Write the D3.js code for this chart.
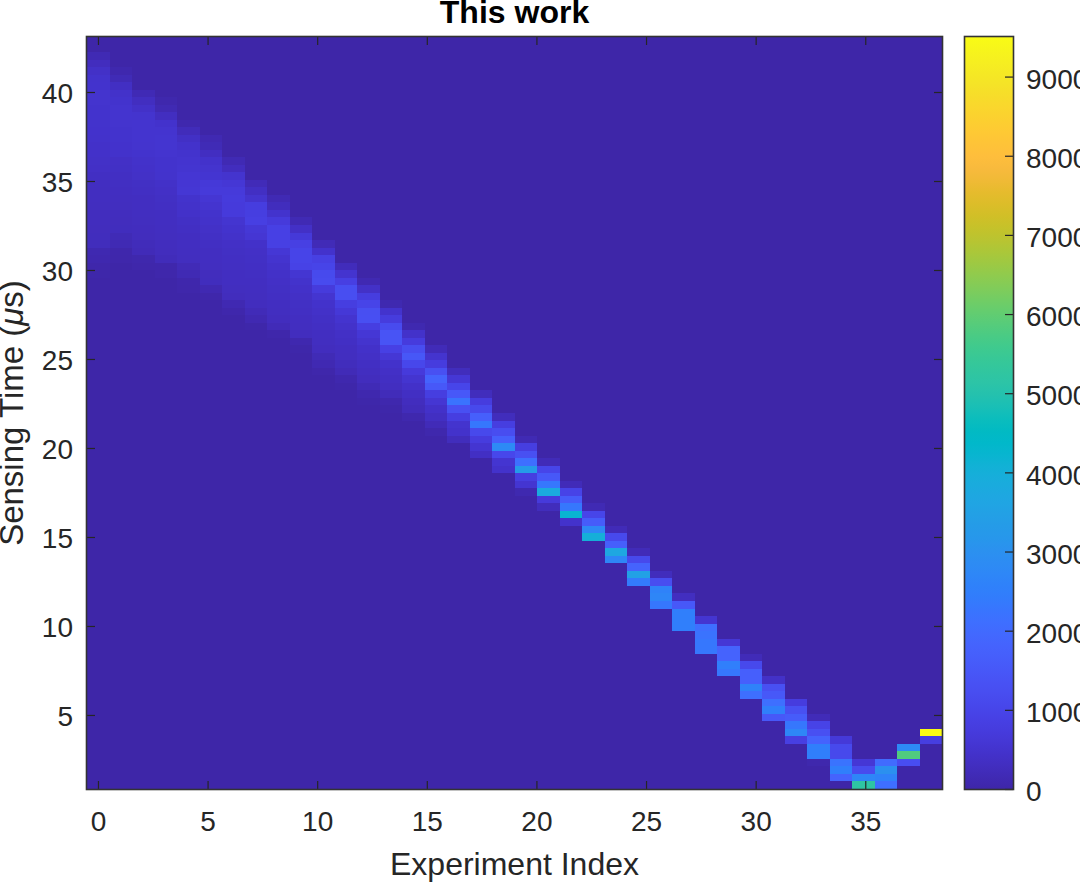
<!DOCTYPE html>
<html>
<head>
<meta charset="utf-8">
<script src="https://cdnjs.cloudflare.com/ajax/libs/d3/7.8.5/d3.min.js"></script>
<style>
html,body{margin:0;padding:0;background:#fff;overflow:hidden}
svg{display:block}
text{font-family:"Liberation Sans",Arial,sans-serif;fill:#262626}
</style>
</head>
<body>
<svg id="chart" width="1080" height="883"></svg>
<script>
const titleText = "This work";
const xLabel = "Experiment Index";
const xTicks = [0,5,10,15,20,25,30,35];
const yTicks = [5,10,15,20,25,30,35,40];
const cTicks = [0,1000,2000,3000,4000,5000,6000,7000,8000,9000];
const rowCount = 100;
const colorMax = 9500;

// Parula colormap
const parula = [[0.2422,0.1504,0.6603],[0.2504,0.1650,0.7076],[0.2578,0.1818,0.7511],[0.2647,0.1978,0.7952],[0.2706,0.2147,0.8364],[0.2751,0.2342,0.8710],[0.2783,0.2559,0.8991],[0.2803,0.2782,0.9221],[0.2813,0.3006,0.9414],[0.2810,0.3228,0.9579],[0.2795,0.3447,0.9717],[0.2760,0.3667,0.9829],[0.2699,0.3892,0.9906],[0.2602,0.4123,0.9952],[0.2440,0.4358,0.9988],[0.2206,0.4603,0.9973],[0.1963,0.4847,0.9892],[0.1834,0.5074,0.9798],[0.1786,0.5289,0.9682],[0.1764,0.5499,0.9520],[0.1687,0.5703,0.9359],[0.1540,0.5902,0.9218],[0.1460,0.6091,0.9079],[0.1380,0.6276,0.8973],[0.1248,0.6459,0.8883],[0.1113,0.6635,0.8763],[0.0952,0.6798,0.8598],[0.0689,0.6948,0.8394],[0.0297,0.7082,0.8163],[0.0036,0.7203,0.7917],[0.0067,0.7312,0.7660],[0.0433,0.7411,0.7394],[0.0964,0.7500,0.7120],[0.1408,0.7584,0.6842],[0.1717,0.7670,0.6554],[0.1938,0.7758,0.6251],[0.2161,0.7843,0.5923],[0.2470,0.7918,0.5567],[0.2906,0.7973,0.5188],[0.3406,0.8008,0.4789],[0.3909,0.8029,0.4354],[0.4456,0.8024,0.3909],[0.5044,0.7993,0.3480],[0.5616,0.7942,0.3045],[0.6174,0.7876,0.2612],[0.6720,0.7793,0.2227],[0.7242,0.7698,0.1910],[0.7738,0.7598,0.1646],[0.8203,0.7498,0.1535],[0.8634,0.7406,0.1596],[0.9035,0.7330,0.1774],[0.9393,0.7288,0.2100],[0.9728,0.7298,0.2394],[0.9956,0.7434,0.2371],[0.9970,0.7659,0.2199],[0.9952,0.7893,0.2028],[0.9892,0.8136,0.1885],[0.9786,0.8386,0.1766],[0.9676,0.8639,0.1643],[0.9610,0.8890,0.1537],[0.9597,0.9135,0.1423],[0.9628,0.9373,0.1265],[0.9691,0.9606,0.1064],[0.9769,0.9839,0.0805]];

// First filled row (counted from the top) of each of the 38 columns
const columnStart = [2,4,7,8,11,13,16,19,21,24,27,30,32,35,38,41,44,47,50,53,56,59,62,65,68,71,74,77,80,82,85,88,90,93,96,96,94,92];

// Counts per column, top to bottom, starting at columnStart
const columnValues = [
 [150,280,400,470,490,500,500,490,480,470,460,450,430,420,400,380,340,320,300,300,290,280,280,270,260,250,110,90,40,30],
 [80,180,340,440,490,510,510,500,490,480,460,450,390,370,340,330,310,300,290,280,270,260,170,150,50,40],
 [160,300,410,500,520,520,510,500,480,440,420,400,360,340,320,310,300,290,280,270,230,200,60,40],
 [60,140,300,460,510,530,530,520,490,480,470,410,390,360,340,320,310,300,290,280,270,220,50,40],
 [80,220,370,450,480,520,530,570,570,590,470,440,420,370,340,320,310,300,290,190,150,50,40],
 [120,170,320,450,500,540,650,680,570,520,470,440,400,370,340,320,310,300,270,260,130,40],
 [150,280,500,600,680,720,700,700,530,480,440,390,360,340,330,320,310,290,270,130,50],
 [200,340,500,780,800,830,620,580,420,390,370,350,330,320,300,290,280,200,120,30],
 [150,260,480,700,880,880,860,600,520,450,410,380,360,340,320,300,280,200,40],
 [150,380,650,860,980,980,930,560,470,420,390,360,340,320,300,280,90,30],
 [190,460,860,980,1130,1160,720,530,450,410,370,340,320,300,280,170,120,40],
 [240,520,830,1230,1230,800,640,510,440,390,350,320,300,250,190,70,30],
 [120,400,780,980,1260,1280,820,600,500,430,380,340,300,270,170,80,30],
 [100,480,740,1160,1410,1400,880,600,450,390,340,300,210,80,30],
 [100,440,730,1200,1480,1060,700,530,420,340,280,230,80],
 [200,500,750,1300,1800,1500,800,580,430,330,200,60],
 [250,600,1000,1500,2200,1300,800,500,450,250],
 [250,750,1100,1700,2300,1100,750,550,350],
 [250,800,1200,1700,2800,1050,550,450],
 [150,800,1300,2100,3300,800,550,100],
 [200,1000,1500,2300,3800,700,250],
 [200,950,1600,2300,4200,450],
 [150,1000,1600,2750,4000],
 [200,1100,1700,3700,2700],
 [200,1100,1800,3500,2400],
 [250,1200,2600,2700,2300],
 [300,1500,2500,2500,2500],
 [550,2100,2200,2300,2300],
 [600,1800,1800,2500,2300],
 [200,1100,1700,1700,2600,2100],
 [400,1300,1500,2100,2500,1500],
 [750,1300,1600,2300,2700,850],
 [200,950,1300,1800,2500,2500,60],
 [650,1100,1100,2200,2500,1800],
 [600,1150,2700,5200],
 [2000,3000,2600,2100],
 [2800,5800,1200],
 [9500,800]
];

const W = 1080, H = 883;
const plot = {left:87, right:942, top:37, bottom:789};
const bar = {left:965, right:1013};
const tickLen = 8;

const svg = d3.select("#chart");

const x = d3.scaleLinear().domain([-0.5,38.5]).range([plot.left,plot.right]);
const y = d3.scaleLinear().domain([0.84,43.09]).range([plot.bottom,plot.top]);
const colBand = d3.scaleBand().domain(d3.range(columnValues.length)).range([plot.left,plot.right]);
const rowBand = d3.scaleBand().domain(d3.range(rowCount)).range([plot.top,plot.bottom]);
const c = d3.scaleLinear().domain([0,colorMax]).range([plot.bottom,plot.top]);

const toRgb = p => d3.rgb(p[0]*255,p[1]*255,p[2]*255).formatHex();
const paletteHex = parula.map(toRgb);
const color = d3.scaleLinear()
  .domain(paletteHex.map((_,i)=>i/(paletteHex.length-1)*colorMax))
  .range(paletteHex).interpolate(d3.interpolateRgb).clamp(true);

const cells = columnValues.flatMap((vals,ci)=>vals.map((v,i)=>({col:ci,row:columnStart[ci]+i,v})));

// background (zero counts)
svg.append("rect").attr("x",plot.left).attr("y",plot.top)
  .attr("width",plot.right-plot.left).attr("height",plot.bottom-plot.top)
  .attr("fill",color(0));

svg.append("g").attr("shape-rendering","crispEdges").selectAll("rect").data(cells).join("rect")
  .attr("x",d=>colBand(d.col)).attr("y",d=>rowBand(d.row))
  .attr("width",colBand.bandwidth()).attr("height",rowBand.bandwidth())
  .attr("fill",d=>color(d.v));

function styleAxis(g){
  g.select(".domain").remove();
  g.selectAll(".tick line").attr("stroke","#262626").attr("stroke-width",1.2);
  g.selectAll(".tick text").attr("font-size",28).attr("fill","#262626");
}

// axes: bottom/left carry labels, top/right mirror the ticks
svg.append("g").attr("transform",`translate(0,${plot.bottom})`)
  .call(d3.axisBottom(x).tickValues(xTicks).tickSize(-tickLen).tickPadding(22).tickFormat(d3.format("d")))
  .call(styleAxis);
svg.append("g").attr("transform",`translate(0,${plot.top})`)
  .call(d3.axisTop(x).tickValues(xTicks).tickSize(-tickLen).tickFormat(""))
  .call(styleAxis);
svg.append("g").attr("transform",`translate(${plot.left},0)`)
  .call(d3.axisLeft(y).tickValues(yTicks).tickSize(-tickLen).tickPadding(14).tickFormat(d3.format("d")))
  .call(styleAxis)
  .call(g=>g.selectAll(".tick text").attr("dy","0.38em"));
svg.append("g").attr("transform",`translate(${plot.right},0)`)
  .call(d3.axisRight(y).tickValues(yTicks).tickSize(-tickLen).tickFormat(""))
  .call(styleAxis);

svg.append("rect").attr("x",plot.left-0.5).attr("y",plot.top-0.5)
  .attr("width",plot.right-plot.left+1).attr("height",plot.bottom-plot.top+1)
  .attr("fill","none").attr("stroke","#333").attr("stroke-width",1.6);

// colorbar
const defs = svg.append("defs");
const grad = defs.append("linearGradient").attr("id","parula").attr("x1",0).attr("x2",0).attr("y1",1).attr("y2",0);
grad.selectAll("stop").data(paletteHex).join("stop")
  .attr("offset",(d,i)=>i/(paletteHex.length-1)).attr("stop-color",d=>d);
svg.append("rect").attr("x",bar.left).attr("y",plot.top)
  .attr("width",bar.right-bar.left).attr("height",plot.bottom-plot.top)
  .attr("fill","url(#parula)");
svg.append("g").attr("transform",`translate(${bar.right},0)`)
  .call(d3.axisRight(c).tickValues(cTicks).tickSize(-tickLen).tickPadding(13).tickFormat(d3.format("d")))
  .call(styleAxis)
  .call(g=>g.selectAll(".tick text").attr("dy","0.42em"));
svg.append("rect").attr("x",bar.left-0.5).attr("y",plot.top-0.5)
  .attr("width",bar.right-bar.left+1).attr("height",plot.bottom-plot.top+1)
  .attr("fill","none").attr("stroke","#333").attr("stroke-width",1.6);

// labels
svg.append("text").attr("x",(plot.left+plot.right)/2).attr("y",23)
  .attr("text-anchor","middle").attr("font-size",32).attr("font-weight","bold").style("fill","#000").text(titleText);
svg.append("text").attr("x",(plot.left+plot.right)/2).attr("y",875)
  .attr("text-anchor","middle").attr("font-size",32).text(xLabel);
const yl = svg.append("text").attr("text-anchor","middle").attr("font-size",33)
  .attr("transform",`translate(23,${(plot.top+plot.bottom)/2}) rotate(-90)`);
yl.append("tspan").text("Sensing Time (");
yl.append("tspan").attr("font-style","italic").text("\u03bc");
yl.append("tspan").text("s)");
</script>
</body>
</html>
